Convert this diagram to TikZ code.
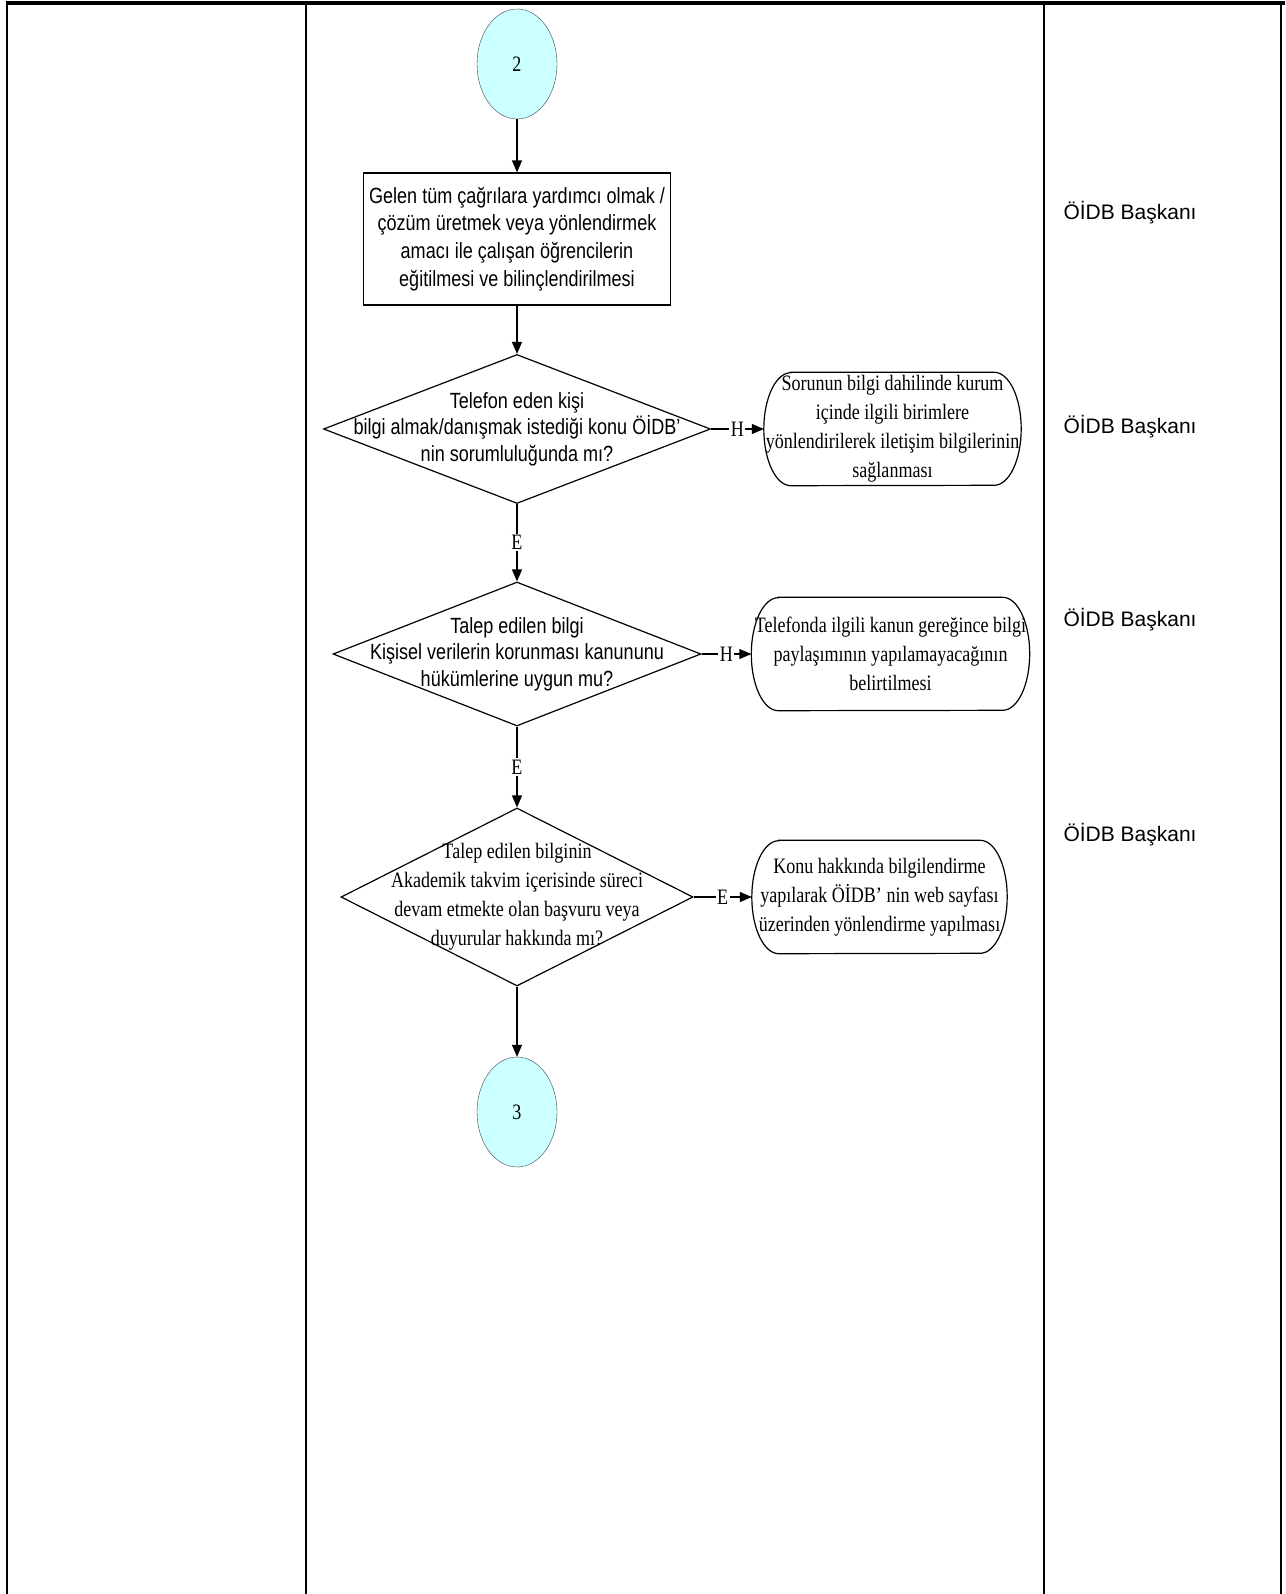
\documentclass[tikz,border=0pt]{standalone}
\usepackage{fontspec}
\newfontfamily\arialfont{Liberation Sans}[FakeStretch=0.82]
\newfontfamily\timesfont{Liberation Serif}[FakeStretch=0.82]
\newfontfamily\rolefont{Liberation Sans}
\usetikzlibrary{arrows.meta, calc, shapes.geometric}
\definecolor{conncyan}{RGB}{204,255,255}
\tikzset{
  conn/.style = {draw=black!75, fill=conncyan, ellipse, minimum width=80pt, minimum height=110pt, inner sep=0pt, font=\timesfont\fontsize{22}{27}\selectfont},
  task/.style = {draw, line width=1.2pt, minimum width=307pt, minimum height=132pt, align=center, font=\arialfont\fontsize{22}{27.7}\selectfont},
  dec/.style = {draw, diamond, line width=1.2pt, inner sep=0pt},
  sanstext/.style = {align=center, font=\arialfont\fontsize{22}{26.5}\selectfont},
  seriftext/.style = {align=center, font=\timesfont\fontsize{22}{29}\selectfont},
  res/.style = {minimum height=113pt, inner sep=0pt, seriftext},
  flow/.style = {line width=1.3pt, -{Triangle[length=12pt, width=10pt]}},
  ans/.style = {fill=white, inner sep=1.5pt, font=\timesfont\fontsize{22}{26}\selectfont},
  role/.style = {anchor=west, font=\rolefont\fontsize{21}{25}\selectfont}
}

\begin{document}
\begin{tikzpicture}[x=1pt, y=-1pt]
  \useasboundingbox (0,0) rectangle (1285,1594);

  % table lines
  \draw[line width=4pt] (6,3) -- (1285,3);
  \foreach \x in {7, 306, 1043.5, 1280.5}
    \draw[line width=2pt] (\x,3) -- (\x,1594);

  \path (517,64) node[conn] (c2) {2}
      ++(0,175) node[task] (train) {Gelen tüm çağrılara yardımcı olmak /\\çözüm üretmek veya yönlendirmek\\amacı ile çalışan öğrencilerin\\eğitilmesi ve bilinçlendirilmesi}
      ++(0,190) node[dec, minimum width=387pt, minimum height=149pt, label={[sanstext]center:{Telefon eden kişi\\bilgi almak/danışmak istediği konu ÖİDB’\\nin sorumluluğunda mı?}}] (q1) {}
      ++(0,225) node[dec, minimum width=368pt, minimum height=144pt, label={[sanstext]center:{Talep edilen bilgi\\Kişisel verilerin korunması kanununu\\hükümlerine uygun mu?}}] (q2) {}
      ++(0,243) node[dec, minimum width=352pt, minimum height=178pt, label={[seriftext]center:{Talep edilen bilginin\\Akademik takvim içerisinde süreci\\devam etmekte olan başvuru veya\\duyurular hakkında mı?}}] (q3) {}
      ++(0,215) node[conn] (c3) {3};

  \node[res, minimum width=257pt] (b1) at (892.5,429) {Sorunun bilgi dahilinde kurum\\içinde ilgili birimlere\\yönlendirilerek iletişim bilgilerinin\\sağlanması};
  \node[res, minimum width=278pt] (b2) at (890.5,654) {Telefonda ilgili kanun gereğince bilgi\\paylaşımının yapılamayacağının\\belirtilmesi};
  \node[res, minimum width=255pt] (b3) at (879.5,897) {Konu hakkında bilgilendirme\\yapılarak ÖİDB’ nin web sayfası\\üzerinden yönlendirme yapılması};

  % rounded ends of the result boxes
  \foreach \b in {b1, b2, b3}
    \draw[line width=1.2pt] ($(\b.north west)+(27,0)$) -- ($(\b.north east)+(-27,0)$)
      arc[start angle=90, end angle=-90, x radius=27pt, y radius=56.5pt]
      -- ($(\b.south west)+(27,0)$)
      arc[start angle=-90, end angle=-270, x radius=27pt, y radius=56.5pt] -- cycle;

  \draw[flow] (c2) -- (train);
  \draw[flow] (train) -- (q1);
  \draw[flow] (q1) -- node[ans] {E} (q2);
  \draw[flow] (q2) -- node[ans] {E} (q3);
  \draw[flow] (q3) -- (c3);
  \draw[flow] (q1.east) -- node[ans] {H} (b1.west);
  \draw[flow] (q2.east) -- node[ans] {H} (b2.west);
  \draw[flow] (q3.east) -- node[ans] {E} (b3.west);

  \node[role] (r1) at (1060,213) {ÖİDB Başkanı};
  \node[role] (r2) at (1060,427) {ÖİDB Başkanı};
  \node[role] (r3) at (1060,620) {ÖİDB Başkanı};
  \node[role] (r4) at (1060,835) {ÖİDB Başkanı};
\end{tikzpicture}
\end{document}
